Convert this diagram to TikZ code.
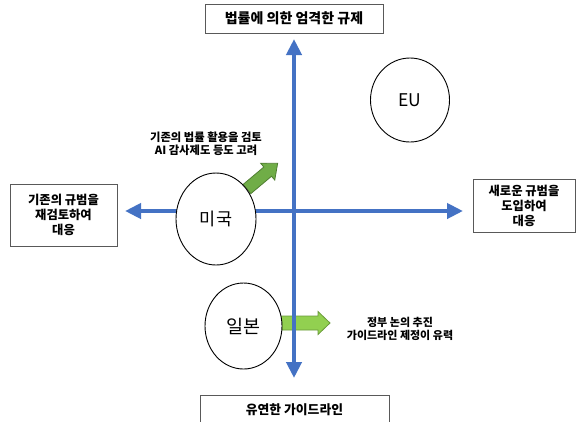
\documentclass[tikz,border=0pt]{standalone}
\usepackage{fontspec}
\setmainfont{Noto Sans CJK KR}
\usetikzlibrary{arrows.meta,shapes.geometric}
\definecolor{axblue}{HTML}{4472C4}
\definecolor{gdark}{HTML}{70AD47}
\definecolor{gdarkline}{HTML}{507E32}
\definecolor{glight}{HTML}{92D050}
\definecolor{glightline}{HTML}{6A9A3A}
\definecolor{boxline}{HTML}{595959}
\tikzset{
  boxnode/.style={draw=boxline, line width=0.8pt, fill=white, align=center, inner sep=0pt, font=\bfseries},
  circnode/.style={ellipse, draw=black, line width=0.9pt, fill=white, inner sep=0pt},
  axisline/.style={draw=axblue, line width=4pt, arrows={Triangle[length=16pt,width=15pt]-Triangle[length=16pt,width=15pt]}},
  notetext/.style={align=center, font=\bfseries\fontsize{11}{12.5}\selectfont, inner sep=0pt},
  blockarrow/.style={line width=0.8pt, line join=miter}
}
\begin{document}
\begin{tikzpicture}[x=1pt,y=-1pt]
\useasboundingbox (0,0) rectangle (577,421);
\clip (0,0) rectangle (577,421);
\fill[white] (0,0) rectangle (577,421);

% boxes
\node[boxnode, minimum width=178pt, minimum height=29pt, font=\bfseries\fontsize{14}{16}\selectfont] (top) at (294,18.5) {법률에 의한 엄격한 규제};
\node[boxnode, minimum width=107pt, minimum height=62pt, font=\bfseries\fontsize{12.3}{15}\selectfont] (left) at (63.5,215) {기존의 규범을\\재검토하여\\대응};
\node[boxnode, minimum width=102pt, minimum height=53pt, font=\bfseries\fontsize{12.3}{15}\selectfont] (right) at (524,206) {새로운 규범을\\도입하여\\대응};
\node[boxnode, minimum width=189pt, minimum height=29pt, font=\bfseries\fontsize{12.8}{15}\selectfont] (bottom) at (294.5,410) {유연한 가이드라인};

% green block arrows
\begin{scope}[shift={(281,323)}]
  \filldraw[blockarrow, fill=glight, draw=glightline]
    (0,-7) -- (37,-7) -- (37,-11.5) -- (49,0) -- (37,11.5) -- (37,7) -- (0,7) -- cycle;
  \coordinate (jparrowtip) at (49,0);
\end{scope}
\begin{scope}[shift={(247,189)}, rotate=40]
  \filldraw[blockarrow, fill=gdark, draw=gdarkline]
    (0,-6) -- (27,-6) -- (27,-11) -- (40,0) -- (27,11) -- (27,6) -- (0,6) -- cycle;
  \coordinate (usarrowtip) at (40,0);
\end{scope}

% axes
\coordinate (vt) at (294,39);
\coordinate (vb) at (294,378);
\coordinate (hl) at (125,211);
\coordinate (hr) at (463,211);
\draw[axisline] (vb) -- (vt);
\draw[axisline] (hl) -- (hr);

% circles
\node[circnode, minimum width=79pt, minimum height=84pt, font=\fontsize{17.5}{20}\selectfont] (eu) at (410,100) {EU};
\node[circnode, minimum width=80pt, minimum height=92pt, font=\fontsize{17.5}{20}\selectfont] (us) at (216,219) {미국};
\node[circnode, minimum width=77pt, minimum height=86pt, font=\fontsize{18.5}{21}\selectfont] (jp) at (243.5,326) {일본};

% notes
\node[notetext, font=\bfseries\fontsize{11.3}{13}\selectfont] (usnote) at (206,143.5) {기존의 법률 활용을 검토\\AI 감사제도 등도 고려};
\node[notetext] (jpnote) at (400,329) {정부 논의 추진\\가이드라인 제정이 유력};
\end{tikzpicture}
\end{document}
